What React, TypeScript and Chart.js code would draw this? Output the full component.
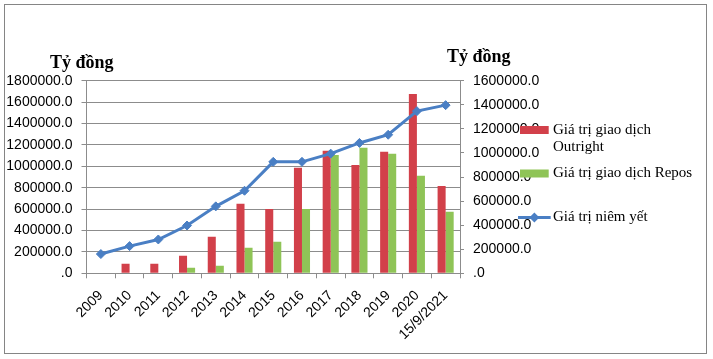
import React, { useEffect, useRef } from "react";
import { Chart, registerables } from "chart.js";

Chart.register(...registerables);

const categories = ["2009", "2010", "2011", "2012", "2013", "2014", "2015", "2016", "2017", "2018", "2019", "2020", "15/9/2021"];
const outrightValues = [null, 90000, 90000, 165000, 342000, 650000, 601000, 987000, 1146000, 1012000, 1136000, 1676000, 816000];
const reposValues = [null, null, null, 52000, 71000, 239000, 295000, 601000, 1105000, 1174000, 1118000, 912000, 576000];
const listedValues = [160000, 226000, 281000, 397000, 556000, 686000, 926000, 926000, 994000, 1083000, 1151000, 1347000, 1397000];
const seriesLabels = ["Giá trị giao dịch Outright", "Giá trị giao dịch Repos", "Giá trị niêm yết"];
const axisTitle = "Tỷ đồng";
const leftMax = 1800000;
const rightMax = 1600000;
const tickStep = 200000;

const RED = "#d2404a";
const GREEN = "#8fc457";
const BLUE = "#4a7fc4";
const GRID = "#8c8c8c";
const TICK_FONT = { family: "'Liberation Sans', Arial, sans-serif", size: 14 };

const fmt = (v: any) => (Number(v) === 0 ? ".0" : `${v}.0`);

function wrap(ctx: CanvasRenderingContext2D, text: string, maxW: number): string[] {
  const words = text.split(" ");
  const lines: string[] = [];
  let cur = "";
  for (const w of words) {
    const t = cur ? cur + " " + w : w;
    if (ctx.measureText(t).width > maxW && cur) {
      lines.push(cur);
      cur = w;
    } else cur = t;
  }
  if (cur) lines.push(cur);
  return lines;
}

const extrasPlugin = {
  id: "extras",
  afterDraw(chart: any) {
    const ctx: CanvasRenderingContext2D = chart.ctx;
    ctx.save();
    // axis titles
    ctx.fillStyle = "#000";
    ctx.font = "bold 18px 'Liberation Serif', 'Times New Roman', serif";
    ctx.textAlign = "left";
    ctx.textBaseline = "alphabetic";
    ctx.fillText(axisTitle, 50, 68);
    ctx.fillText(axisTitle, 447, 62);

    // legend
    ctx.font = "15px 'Liberation Serif', 'Times New Roman', serif";
    ctx.textBaseline = "middle";
    const ds = chart.data.datasets;
    const itemYs = [130, 173.5, 217.5];
    const markX = 520;
    const markW = 28.7;
    const textX = 553;
    ds.forEach((d: any, i: number) => {
      const y = itemYs[i];
      if (d.type === "line") {
        ctx.strokeStyle = d.borderColor;
        ctx.lineWidth = 3;
        ctx.beginPath();
        ctx.moveTo(markX - 2, y);
        ctx.lineTo(markX + markW + 2, y);
        ctx.stroke();
        const cx = markX + markW / 2;
        ctx.fillStyle = d.backgroundColor;
        ctx.beginPath();
        ctx.moveTo(cx - 5, y);
        ctx.lineTo(cx, y - 5);
        ctx.lineTo(cx + 5, y);
        ctx.lineTo(cx, y + 5);
        ctx.closePath();
        ctx.fill();
      } else {
        ctx.fillStyle = d.backgroundColor;
        ctx.fillRect(markX, y - 4, markW, 8);
      }
      ctx.fillStyle = "#000";
      const lines = wrap(ctx, d.label, 145);
      lines.forEach((ln, k) => ctx.fillText(ln, textX, y + k * 17.5));
    });
    ctx.restore();
  },
};

export default function App() {
  const ref = useRef<HTMLCanvasElement | null>(null);

  useEffect(() => {
    document.body.style.margin = "0";
    if (!ref.current) return;
    const chart = new Chart(ref.current, {
      type: "bar",
      data: {
        labels: categories,
        datasets: [
          {
            type: "bar",
            label: seriesLabels[0],
            data: outrightValues as any,
            backgroundColor: RED,
            yAxisID: "y",
            order: 2,
            categoryPercentage: 0.56,
            barPercentage: 1,
          },
          {
            type: "bar",
            label: seriesLabels[1],
            data: reposValues as any,
            backgroundColor: GREEN,
            yAxisID: "y",
            order: 2,
            categoryPercentage: 0.56,
            barPercentage: 1,
          },
          {
            type: "line",
            label: seriesLabels[2],
            data: listedValues,
            borderColor: BLUE,
            backgroundColor: BLUE,
            borderWidth: 3,
            tension: 0,
            pointStyle: "rectRot",
            pointRadius: 4.5,
            pointBorderWidth: 1,
            pointBorderColor: BLUE,
            pointBackgroundColor: BLUE,
            yAxisID: "y1",
            order: 0,
          } as any,
        ],
      },
      options: {
        responsive: false,
        animation: false,
        layout: { padding: { left: 0, right: 163, top: 80.7, bottom: 5.7 } },
        plugins: { legend: { display: false }, tooltip: { enabled: false } },
        scales: {
          x: {
            offset: true,
            grid: { display: true, drawOnChartArea: false, drawTicks: true, tickLength: 5, color: GRID, offset: true },
            border: { display: true, color: GRID },
            ticks: { font: TICK_FONT, color: "#000", maxRotation: 45, minRotation: 45, autoSkip: false, padding: 9 },
            afterFit: (s: any) => {
              s.height = 80;
            },
          },
          y: {
            position: "left",
            min: 0,
            max: leftMax,
            ticks: { stepSize: tickStep, callback: fmt, font: TICK_FONT, color: "#000", padding: 9 },
            grid: { color: GRID, tickLength: 5, drawTicks: true },
            border: { color: GRID },
            afterFit: (s: any) => {
              s.width = 86.5;
            },
          },
          y1: {
            position: "right",
            min: 0,
            max: rightMax,
            ticks: { stepSize: tickStep, callback: fmt, font: TICK_FONT, color: "#000", padding: 9 },
            grid: { drawOnChartArea: false, tickLength: 4, color: GRID },
            border: { color: GRID },
            afterFit: (s: any) => {
              s.width = 90;
            },
          },
        },
      } as any,
      plugins: [extrasPlugin],
    });
    return () => chart.destroy();
  }, []);

  return (
    <div style={{ position: "relative", width: 713, height: 359, background: "#fff" }}>
      <div
        style={{
          position: "absolute",
          left: 4,
          top: 4,
          width: 703,
          height: 350,
          boxSizing: "border-box",
          border: "1px solid #858585",
          pointerEvents: "none",
        }}
      />
      <canvas ref={ref} width={713} height={359} style={{ position: "absolute", left: 0, top: 0 }} />
    </div>
  );
}
